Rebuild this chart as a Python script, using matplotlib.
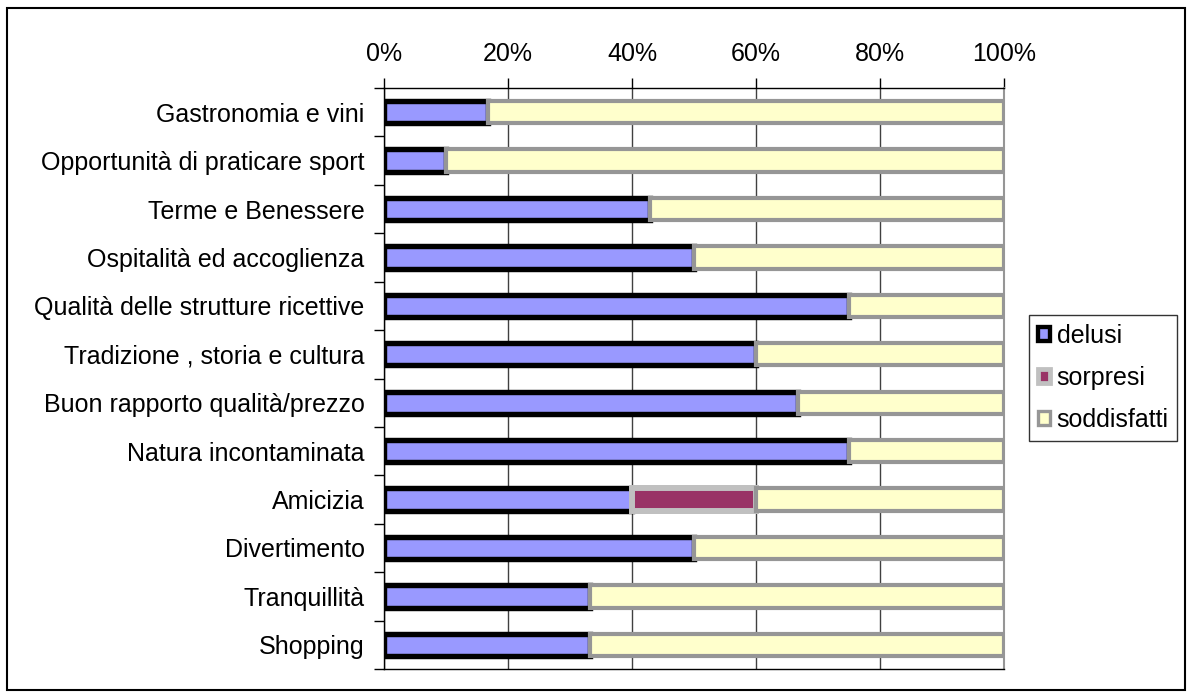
import matplotlib
matplotlib.use("Agg")
import matplotlib.pyplot as plt
from matplotlib.patches import Patch, Rectangle
import numpy as np

plt.rcParams['font.family'] = ['Liberation Sans', 'DejaVu Sans']

categories = [
    "Gastronomia e vini",
    "Opportunità di praticare sport",
    "Terme e Benessere",
    "Ospitalità ed accoglienza",
    "Qualità delle strutture ricettive",
    "Tradizione , storia e cultura",
    "Buon rapporto qualità/prezzo",
    "Natura incontaminata",
    "Amicizia",
    "Divertimento",
    "Tranquillità",
    "Shopping",
]
delusi = [16.7, 10.0, 42.9, 50.0, 75.0, 60.0, 66.7, 75.0, 40.0, 50.0, 33.3, 33.3]
sorpresi = [0, 0, 0, 0, 0, 0, 0, 0, 20.0, 0, 0, 0]
soddisfatti = [83.3, 90.0, 57.1, 50.0, 25.0, 40.0, 33.3, 25.0, 40.0, 50.0, 66.7, 66.7]
xtick_labels = ["0%", "20%", "40%", "60%", "80%", "100%"]

series = [
    ("delusi", delusi, "#9999FF", "#000000", 3.9),
    ("sorpresi", sorpresi, "#993366", "#C0C0C0", 4.3),
    ("soddisfatti", soddisfatti, "#FFFFCC", "#969696", 3.0),
]

FS = 18

fig = plt.figure(figsize=(11.91, 6.97), dpi=100)
ax = fig.add_axes([384 / 1191, 1 - 669 / 697, 620 / 1191, (669 - 88) / 697])

y = np.arange(len(categories))
left = np.zeros(len(categories))
for name, vals, fc, ec, lw in series:
    vals = np.array(vals, dtype=float)
    mask = vals > 0
    ax.barh(y[mask], vals[mask], left=left[mask], height=0.46,
            color=fc, edgecolor=ec, linewidth=lw, zorder=3, label=name)
    left += vals

ax.set_xlim(0, 100)
ax.set_ylim(len(categories) - 0.5, -0.5)

# x axis on top
ax.xaxis.tick_top()
ax.set_xticks(np.linspace(0, 100, 6))
ax.set_xticklabels(xtick_labels, fontsize=FS)
ax.tick_params(axis='x', direction='out', length=7, width=1, pad=9, color='black')
ax.xaxis.grid(True, color='#404040', linewidth=1, zorder=0)

# categories with ticks at the boundaries between bars
ax.set_yticks(y)
ax.set_yticklabels(categories, fontsize=FS)
ax.tick_params(axis='y', which='major', length=0, pad=14)
ax.set_yticks(np.arange(len(categories) + 1) - 0.5, minor=True)
ax.tick_params(axis='y', which='minor', direction='out', length=7, width=1, color='black')

for side in ['left', 'top', 'bottom']:
    ax.spines[side].set_color('black')
    ax.spines[side].set_linewidth(1)
ax.spines['right'].set_color('#969696')
ax.spines['right'].set_linewidth(1.5)

handles = [Patch(facecolor=fc, edgecolor=ec, linewidth=lw * 0.8, label=name)
           for name, vals, fc, ec, lw in series]
leg = fig.legend(handles=handles, loc='upper left',
                 bbox_to_anchor=(1029 / 1191, 1 - 315 / 697),
                 fontsize=FS, frameon=True, fancybox=False,
                 edgecolor='black', handlelength=0.5, handleheight=0.5,
                 handletextpad=0.25, labelspacing=0.72, borderpad=0.35,
                 borderaxespad=0)
leg.get_frame().set_linewidth(1)

# outer chart frame
fig.patches.append(Rectangle((7 / 1191, 1 - 690 / 697), 1178 / 1191, 682 / 697,
                             transform=fig.transFigure, fill=False,
                             edgecolor='black', linewidth=1.5))

fig.savefig("out.png", dpi=100)
